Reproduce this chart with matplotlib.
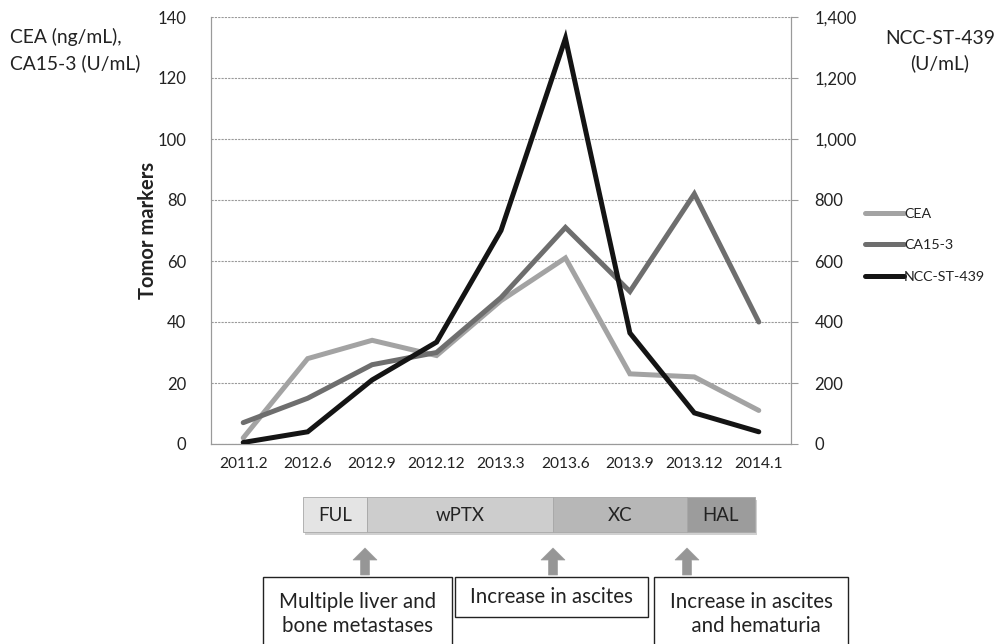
import matplotlib
matplotlib.use("Agg")
import matplotlib.pyplot as plt
from matplotlib.patches import Rectangle, FancyArrow
from matplotlib.ticker import FuncFormatter, MultipleLocator

plt.rcParams['font.family'] = ['Lato', 'DejaVu Sans']

dates = ["2011.2", "2012.6", "2012.9", "2012.12", "2013.3", "2013.6", "2013.9", "2013.12", "2014.1"]
cea = [2, 28, 34, 29, 47, 61, 23, 22, 11]
ca153 = [7, 15, 26, 30, 48, 71, 50, 82, 40]
ncc = [5, 40, 210, 334, 700, 1330, 364, 102, 40]

treatments = ["FUL", "wPTX", "XC", "HAL"]
events = ["Multiple liver and\nbone metastases", "Increase in ascites", "Increase in ascites\n  and hematuria"]

W, H = 998, 644
fig = plt.figure(figsize=(W / 100, H / 100), dpi=100)

def fx(px):
    return px / W

def fy(py):
    return 1 - py / H

ax = fig.add_axes([fx(211), fy(444), fx(791) - fx(211), fy(17) - fy(444)])
ax2 = ax.twinx()

x = list(range(len(dates)))
l1, = ax.plot(x, cea, color="#a3a3a3", lw=3.6, solid_capstyle="round", solid_joinstyle="miter", zorder=3)
l2, = ax.plot(x, ca153, color="#6e6e6e", lw=3.6, solid_capstyle="round", solid_joinstyle="miter", zorder=3)
l3, = ax2.plot(x, ncc, color="#141414", lw=3.6, solid_capstyle="round", solid_joinstyle="miter", zorder=3)

ax.set_xlim(-0.5, len(dates) - 0.5)
ax.set_ylim(0, 140)
ax2.set_ylim(0, 1400)
ax.yaxis.set_major_locator(MultipleLocator(20))
ax2.yaxis.set_major_locator(MultipleLocator(200))
ax2.yaxis.set_major_formatter(FuncFormatter(lambda v, p: f"{int(v):,}"))
ax.set_xticks(x)
ax.set_xticklabels(dates)

gridc = "#9a9a9a"
ax.grid(axis="y", color=gridc, linestyle=(0, (2, 1)), linewidth=0.8)
for a in (ax, ax2):
    for s in a.spines.values():
        s.set_color(gridc)
        s.set_linestyle((0, (2, 1)))
        s.set_linewidth(0.8)
    a.spines['top'].set_visible(False)
ax.tick_params(axis="y", length=0, pad=18, labelsize=12, colors="#222222")
ax.tick_params(axis="x", length=0, pad=9, labelsize=11.2, colors="#222222")
ax2.tick_params(axis="y", length=5, direction="out", color=gridc, pad=12, labelsize=12, colors="#222222")

ax.set_ylabel("Tomor markers", fontsize=14.5, fontweight="bold", color="#222222")
ax.yaxis.set_label_coords((158 - 211) / 580, 0.5)

fig.text(fx(10), fy(50), "CEA (ng/mL),\nCA15-3 (U/mL)", fontsize=13.9, va="center", ha="left",
         color="#222222", linespacing=1.5)
fig.text(fx(940), fy(51), "NCC-ST-439\n(U/mL)", fontsize=13.9, va="center", ha="center",
         color="#222222", linespacing=1.5)

leg = fig.legend([l1, l2, l3], ["CEA", "CA15-3", "NCC-ST-439"], loc="upper left",
                 bbox_to_anchor=(fx(852), fy(195)), frameon=False, fontsize=10.3,
                 handlelength=2.7, handletextpad=0.05, labelspacing=1.35)
for t in leg.get_texts():
    t.set_color("#222222")

# overlay for treatment bar, arrows and boxes
ov = fig.add_axes([0, 0, 1, 1], zorder=-1)
ov.set_xlim(0, W)
ov.set_ylim(H, 0)
ov.axis("off")
ov.patch.set_alpha(0)

bounds = [303, 367, 553, 687, 755]
colors = ["#e4e4e4", "#cdcdcd", "#b7b7b7", "#9c9c9c"]
y0, y1 = 497, 532
ov.add_patch(Rectangle((bounds[0] + 2, y0 + 3), bounds[-1] - bounds[0], y1 - y0,
                       facecolor="#d0d0d0", edgecolor="none", zorder=1))
for i, name in enumerate(treatments):
    ov.add_patch(Rectangle((bounds[i], y0), bounds[i + 1] - bounds[i], y1 - y0,
                           facecolor=colors[i], edgecolor="#a8a8a8", linewidth=0.6, zorder=2))
    ov.text((bounds[i] + bounds[i + 1]) / 2, (y0 + y1) / 2 + 1, name, ha="center", va="center",
            fontsize=13.4, color="#222222", zorder=3)

for ax_c in [365, 553, 687]:
    ov.add_patch(FancyArrow(ax_c, 575, 0, -27, width=9, head_width=24, head_length=12,
                            length_includes_head=True, facecolor="#969696", edgecolor="#a0a0a0",
                            linewidth=0.5, zorder=2))

boxes = [(263, 452, 577, 650), (455, 648, 577, 617), (654, 848, 577, 650)]
for (bx0, bx1, by0, by1), txt in zip(boxes, events):
    ov.add_patch(Rectangle((bx0, by0), bx1 - bx0, by1 - by0, facecolor="white",
                           edgecolor="#222222", linewidth=1.0, zorder=2))
    if by1 > 630:
        ov.text((bx0 + bx1) / 2, 614, txt, ha="center", va="center", fontsize=14.8,
                color="#222222", linespacing=1.3, zorder=3)
    else:
        ov.text((bx0 + bx1) / 2, (by0 + by1) / 2, txt, ha="center", va="center", fontsize=14.8,
                color="#222222", zorder=3)

fig.savefig("out.png", dpi=100)
